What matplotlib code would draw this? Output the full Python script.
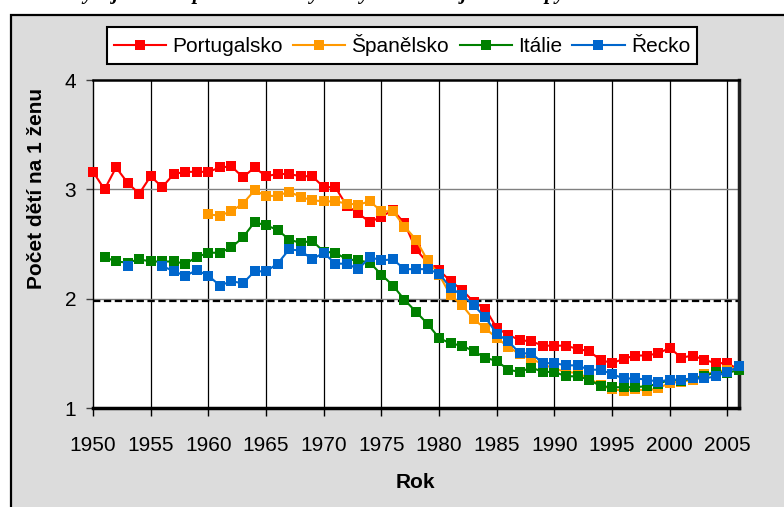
import numpy as np
import matplotlib
matplotlib.use('Agg')
import matplotlib.pyplot as plt
from matplotlib.patches import Rectangle

plt.rcParams['font.family'] = ['Liberation Sans', 'DejaVu Sans']

# values (total fertility rate)
years = list(range(1950, 2007))

portugal = [3.16, 3.00, 3.20, 3.06, 2.96, 3.12, 3.02, 3.14, 3.16, 3.16,
            3.16, 3.20, 3.21, 3.11, 3.20, 3.12, 3.14, 3.14, 3.12, 3.12,
            3.02, 3.02, 2.85, 2.78, 2.70, 2.75, 2.81, 2.69, 2.45, 2.33,
            2.26, 2.16, 2.08, 1.97, 1.91, 1.73, 1.67, 1.62, 1.61, 1.57,
            1.57, 1.57, 1.54, 1.52, 1.44, 1.41, 1.45, 1.48, 1.48, 1.50,
            1.55, 1.46, 1.48, 1.44, 1.41, 1.41, 1.35]

spain_years = list(range(1960, 2007))
spain = [2.77, 2.76, 2.80, 2.87, 2.99, 2.94, 2.94, 2.98, 2.93, 2.90,
         2.89, 2.89, 2.87, 2.86, 2.89, 2.80, 2.80, 2.66, 2.54, 2.35,
         2.22, 2.03, 1.94, 1.81, 1.73, 1.64, 1.56, 1.49, 1.45, 1.40,
         1.36, 1.33, 1.32, 1.27, 1.21, 1.17, 1.16, 1.17, 1.16, 1.18,
         1.23, 1.24, 1.26, 1.31, 1.33, 1.35, 1.38]

italy_years = list(range(1951, 2007))
italy = [2.38, 2.34, 2.33, 2.36, 2.34, 2.34, 2.34, 2.32, 2.38,
         2.42, 2.42, 2.47, 2.56, 2.70, 2.67, 2.63, 2.54, 2.51, 2.53,
         2.43, 2.42, 2.36, 2.35, 2.33, 2.22, 2.12, 1.99, 1.88, 1.77,
         1.64, 1.59, 1.57, 1.52, 1.46, 1.43, 1.35, 1.33, 1.37, 1.33,
         1.33, 1.29, 1.29, 1.26, 1.20, 1.19, 1.19, 1.19, 1.20, 1.22,
         1.26, 1.25, 1.27, 1.29, 1.33, 1.32, 1.35]

greece_years = list(range(1953, 2007))
greece = [2.30, np.nan, np.nan, 2.30, 2.25, 2.21, 2.26,
          2.21, 2.12, 2.16, 2.14, 2.25, 2.25, 2.32, 2.45, 2.44, 2.36,
          2.42, 2.32, 2.32, 2.27, 2.38, 2.35, 2.36, 2.27, 2.27, 2.27,
          2.23, 2.10, 2.03, 1.94, 1.83, 1.68, 1.61, 1.50, 1.50, 1.41,
          1.41, 1.39, 1.39, 1.35, 1.35, 1.31, 1.27, 1.27, 1.26, 1.24,
          1.26, 1.26, 1.27, 1.27, 1.29, 1.33, 1.38]

replacement = 1.98
x_ticks = list(range(1950, 2006, 5))
y_ticks = [1, 2, 3, 4]

series = [('Portugalsko', years, portugal, '#ff0000'),
          ('Španělsko', spain_years, spain, '#ff9900'),
          ('Itálie', italy_years, italy, '#008000'),
          ('Řecko', greece_years, greece, '#0066cc')]

W, H = 784, 507
fig = plt.figure(figsize=(W / 100, H / 100), dpi=100, facecolor='white')

# grey chart panel with black frame (cut at right and bottom)
fig.patches.append(Rectangle((11 / W, -0.05), 1.1, 1 - 15 / H + 0.05,
                             transform=fig.transFigure, facecolor='#dcdcdc',
                             edgecolor='black', linewidth=1.6, zorder=-5))

# caption, only its lower edge is inside the picture
fig.text(0.005, 1 + 1 / H,
         'Obr. 3: Vývoj úhrnné plodnosti ve vybraných zemích jižní Evropy '
         'v letech 1950–2006',
         family='Liberation Serif', style='italic', weight='bold',
         fontsize=15, va='baseline', ha='left')

ax = fig.add_axes([93 / W, 1 - 408 / H, (739 - 93) / W, (408 - 80) / H])
ax.set_facecolor('white')

for name, xs, ys, color in series:
    ax.plot(xs, ys, color=color, lw=1.5, marker='s', markersize=7,
            markeredgewidth=0, label=name, clip_on=False, zorder=3)

ax.axhline(replacement, color='black', lw=1.6, linestyle=(0, (3.3, 1.6)),
           zorder=2)

ax.set_xlim(1950, 2006)
ax.set_ylim(1, 4)
ax.set_xticks(x_ticks)
ax.set_xticklabels([str(x) for x in x_ticks])
ax.set_yticks(y_ticks)

# grid: black verticals, grey horizontals
for x in x_ticks[1:]:
    ax.axvline(x, color='black', lw=0.9, zorder=1)
for y in y_ticks[1:-1]:
    ax.axhline(y, color='#808080', lw=1.0, zorder=1)

ax.tick_params(axis='x', direction='out', length=6, width=1, pad=14,
               labelsize=15)
ax.tick_params(axis='y', direction='out', length=5, width=1, pad=7,
               labelsize=15, color='#404040')

ax.spines['left'].set_linewidth(1.0)
ax.spines['top'].set_linewidth(1.8)
ax.spines['bottom'].set_linewidth(2.5)
ax.spines['right'].set_linewidth(2.5)
ax.spines['right'].set_color('#202020')

fig.text(37 / W, 1 - 188 / H, 'Počet dětí na 1 ženu', rotation=90,
         ha='center', va='center', fontsize=15, weight='bold')
fig.text(415 / W, 1 - 482 / H, 'Rok', ha='center', va='center',
         fontsize=15, weight='bold')

leg = fig.legend(loc='center', bbox_to_anchor=(402 / W, 1 - 45.5 / H),
                 ncol=4, fontsize=15, frameon=True, fancybox=False,
                 handlelength=2.5, handletextpad=0.3, columnspacing=0.5,
                 borderpad=0.35, borderaxespad=0)
leg.get_frame().set_edgecolor('black')
leg.get_frame().set_linewidth(1.5)
leg.get_frame().set_facecolor('white')
leg.get_frame().set_alpha(1)

fig.savefig('out.png', dpi=100, facecolor=fig.get_facecolor())
